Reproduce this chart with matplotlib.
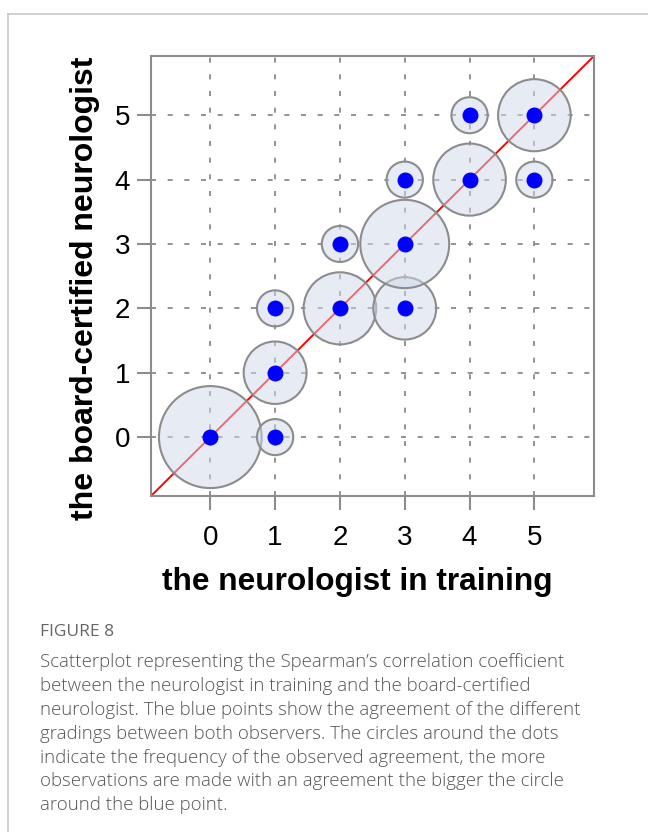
import numpy as np
import matplotlib.pyplot as plt
from matplotlib.patches import Circle
from matplotlib.lines import Line2D

# grading pairs: neurologist in training (x) vs board-certified neurologist (y)
trainee = [0, 1, 1, 1, 2, 2, 3, 3, 3, 4, 4, 5, 5]
certified = [0, 0, 1, 2, 2, 3, 2, 3, 4, 4, 5, 4, 5]
counts = [8, 1, 3, 1, 4, 1, 3, 6, 1, 4, 1, 1, 4]
ticks = [0, 1, 2, 3, 4, 5]

caption_head = "FIGURE 8"
caption_lines = [
    "Scatterplot representing the Spearman\u2019s correlation coefficient",
    "between the neurologist in training and the board-certified",
    "neurologist. The blue points show the agreement of the different",
    "gradings between both observers. The circles around the dots",
    "indicate the frequency of the observed agreement, the more",
    "observations are made with an agreement the bigger the circle",
    "around the blue point.",
]

fig = plt.figure(figsize=(6.48, 8.32), dpi=100)
ax = fig.add_axes([151 / 648, 1 - 496 / 832, 443 / 648, 440 / 832])

lo, hi = -0.915, 5.92
ax.set_xlim(lo, hi)
ax.set_ylim(lo, hi)

# grid
for t in ticks:
    ax.axvline(t, color="#808080", lw=1.2, dashes=(3, 7), zorder=1)
    ax.axhline(t, color="#808080", lw=1.2, dashes=(3, 7), zorder=1)

# identity line
ax.plot([lo, hi], [lo, hi], color="red", lw=1.4, zorder=2)

# frequency circles
r1 = 0.28
for x, y, n in zip(trainee, certified, counts):
    ax.add_patch(Circle((x, y), r1 * np.sqrt(n), facecolor=(0.81, 0.85, 0.92, 0.5),
                        edgecolor="#8c8c8c", lw=1.5, zorder=3))

ax.plot(trainee, certified, "o", color="#0000ff", ms=10.5, zorder=4)

for s in ax.spines.values():
    s.set_color("#8c8c8c")
    s.set_linewidth(1.5)

ax.set_xticks(ticks)
ax.set_yticks(ticks)
ax.tick_params(length=10, width=1.5, color="#8c8c8c", labelsize=20)
ax.tick_params(axis="x", pad=11)
ax.tick_params(axis="y", pad=5)
for lab in ax.get_xticklabels() + ax.get_yticklabels():
    lab.set_family("Liberation Sans")

fig.text(357 / 648, 1 - 582 / 832, "the neurologist in training", ha="center", va="center",
         fontsize=22.8, fontweight="bold", family="Liberation Sans")
fig.text(85 / 648, 1 - 288 / 832, "the board-certified neurologist", ha="center", va="center",
         rotation=90, fontsize=23, fontweight="bold", family="Liberation Sans")

# frame around the figure (top and left edge)
fig.add_artist(Line2D([8 / 648, 1], [1 - 14 / 832] * 2, color="#c8c8c8", lw=1.2))
fig.add_artist(Line2D([8 / 648] * 2, [0, 1 - 14 / 832], color="#c8c8c8", lw=1.2))

fig.text(40 / 648, 1 - 632 / 832, caption_head, ha="left", va="center", fontsize=12.5,
         family="Open Sans", color="#666666")
for i, line in enumerate(caption_lines):
    fig.text(40 / 648, 1 - (662 + 23.9 * i) / 832, line, ha="left", va="center",
             fontsize=13.4, family="Open Sans", fontweight="light", color="#555555")

fig.savefig("out.png", dpi=100)
